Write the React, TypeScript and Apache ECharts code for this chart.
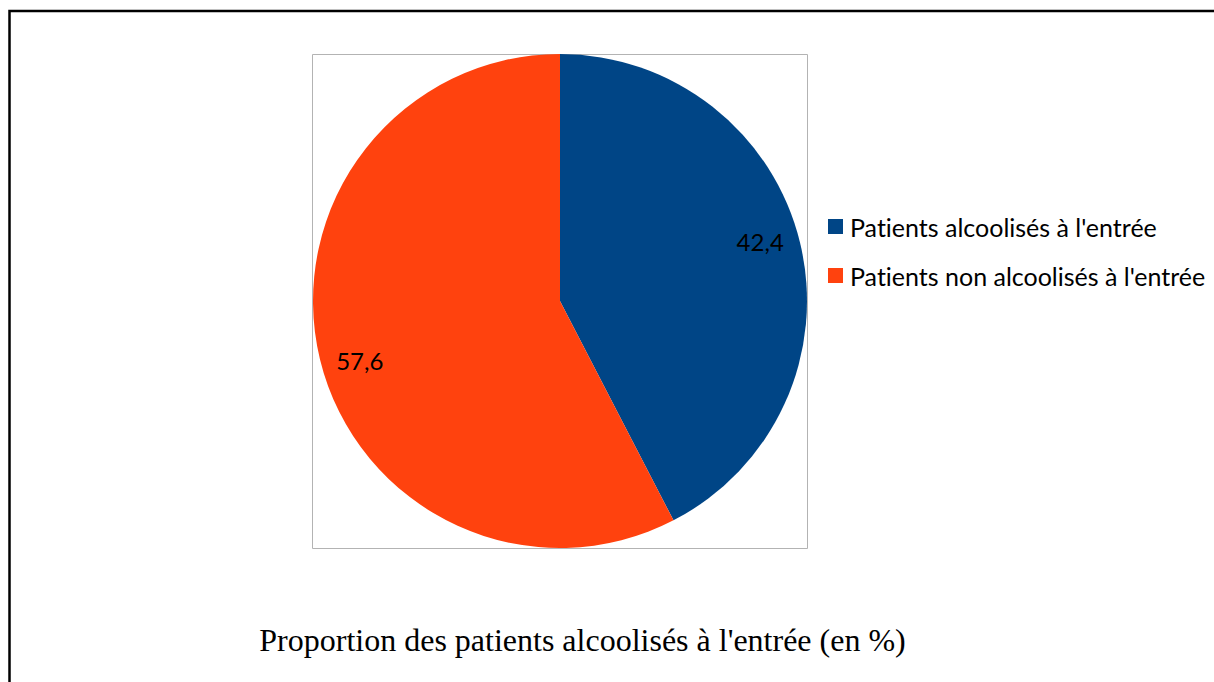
import React, { useEffect, useRef } from "react";
import * as echarts from "echarts";

const categories = ["Patients alcoolisés à l'entrée", "Patients non alcoolisés à l'entrée"];
const values = [42.4, 57.6];
const valueLabels = ["42,4", "57,6"];
const colors = ["#004586", "#ff420e"];
const title = "Proportion des patients alcoolisés à l'entrée (en %)";

export default function App() {
  const ref = useRef<HTMLDivElement>(null);
  useEffect(() => {
    if (!ref.current) return;
    const chart = echarts.init(ref.current, null, { renderer: "svg" });
    const data = categories.map((name, i) => ({ name, value: values[i], itemStyle: { color: colors[i] } }));
    chart.setOption({
      animation: false,
      backgroundColor: "#ffffff",
      title: {
        text: title,
        left: 577.5,
        textAlign: "center",
        top: 619,
        textStyle: { fontFamily: "Liberation Serif", fontSize: 32, fontWeight: "normal", color: "#000" },
      },
      legend: {
        orient: "vertical",
        left: 823,
        top: 209,
        icon: "rect",
        itemWidth: 15,
        itemHeight: 15,
        itemGap: 24,
        data: categories,
        textStyle: { fontFamily: "Lato", fontSize: 25, color: "#000", padding: [0, 0, 0, 2] },
        selectedMode: false,
      },
      graphic: [
        {
          type: "rect",
          shape: { x: 9.5, y: 11, width: 1220, height: 700 },
          style: { fill: "none", stroke: "#000", lineWidth: 2.5 },
          silent: true,
        },
        {
          type: "rect",
          shape: { x: 312.5, y: 54.5, width: 495, height: 494 },
          style: { fill: "none", stroke: "#b3b3b3", lineWidth: 1 },
          silent: true,
          z: 0,
        },
      ],
      series: [
        {
          type: "pie",
          center: [560, 301],
          radius: [0, 247],
          startAngle: 90,
          clockwise: true,
          data,
          label: { show: false },
          labelLine: { show: false },
          silent: true,
          z: 2,
        },
        {
          type: "pie",
          center: [560, 301],
          radius: [162, 250],
          startAngle: 93,
          clockwise: true,
          data: categories.map((name, i) => ({
            name,
            value: values[i],
            itemStyle: { color: "rgba(0,0,0,0)" },
            label: { formatter: valueLabels[i] },
          })),
          label: {
            show: true,
            position: "inside",
            fontFamily: "Lato",
            fontSize: 24,
            color: "#000",
          },
          labelLine: { show: false },
          silent: true,
          legendHoverLink: false,
          z: 3,
        },
      ],
    });
    return () => chart.dispose();
  }, []);
  return (
    <div
      ref={ref}
      style={{ position: "absolute", left: 0, top: 0, width: 1214, height: 682, fontVariantLigatures: "none" }}
    />
  );
}
